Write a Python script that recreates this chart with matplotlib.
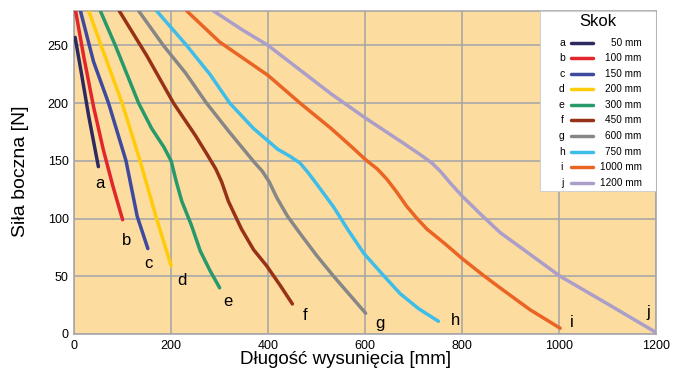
import matplotlib.pyplot as plt
from matplotlib.patches import Rectangle

plt.rcParams["font.family"] = ["Liberation Sans", "DejaVu Sans"]

# side force [N] vs extension length [mm], one curve per stroke
letters = ["a", "b", "c", "d", "e", "f", "g", "h", "i", "j"]
strokes = ["50 mm", "100 mm", "150 mm", "200 mm", "300 mm",
           "450 mm", "600 mm", "750 mm", "1000 mm", "1200 mm"]
colors = ["#2e2a60", "#e3262b", "#3d4a9e", "#ffcc0a", "#27996a",
          "#973218", "#878787", "#3fbde9", "#ea6424", "#ab9ec8"]

a_x = [2, 15, 30, 50]
a_y = [257, 226, 189, 145]
b_x = [3, 20, 40, 60, 80, 100]
b_y = [280, 240, 197, 160, 128, 99]
c_x = [13, 40, 71, 107, 130, 152]
c_y = [280, 236, 200, 150, 102, 74]
d_x = [30, 60, 99, 136, 170, 200]
d_y = [280, 245, 200, 150, 100, 59]
e_x = [54, 85, 133, 160, 185, 200, 210, 222, 242, 260, 280, 300]
e_y = [280, 250, 200, 178, 162, 150, 133, 115, 94, 72, 55, 40]
f_x = [93, 150, 205, 250, 275, 292, 304, 318, 345, 370, 397, 425, 450]
f_y = [280, 241, 200, 172, 155, 143, 132, 115, 91, 73, 59, 42, 26]
g_x = [133, 184, 230, 273, 320, 369, 388, 402, 418, 440, 466, 500, 535, 570, 601]
g_y = [280, 250, 226, 200, 175, 150, 141, 132, 118, 102, 87, 68, 50, 33, 18]
h_x = [170, 232, 280, 321, 370, 420, 445, 466, 482, 500, 535, 565, 597, 635, 672, 710, 751]
h_y = [280, 250, 225, 200, 178, 160, 154, 148, 140, 130, 110, 90, 70, 52, 35, 22, 11]
i_x = [232, 300, 400, 466, 530, 570, 601, 625, 645, 665, 685, 705, 727, 765, 801,
       840, 878, 940, 1002]
i_y = [280, 253, 224, 200, 178, 163, 151, 143, 134, 123, 111, 101, 91, 78, 65,
       52, 40, 21, 5]
j_x = [287, 345, 400, 465, 530, 601, 680, 715, 738, 755, 775, 801, 840, 878, 940,
       1002, 1100, 1201]
j_y = [280, 264, 250, 229, 208, 187, 165, 155, 148, 141, 131, 119, 103, 88, 69,
       50, 26, 1]

curves = [(a_x, a_y), (b_x, b_y), (c_x, c_y), (d_x, d_y), (e_x, e_y),
          (f_x, f_y), (g_x, g_y), (h_x, h_y), (i_x, i_y), (j_x, j_y)]

# where the curve letters sit (data coords)
label_x = [53, 109, 153, 223, 316, 476, 631, 786, 1025, 1183]
label_y = [130, 81, 61, 46, 28, 16, 9, 12, 10, 19]

fig, ax = plt.subplots(figsize=(6.8, 3.74), dpi=100)
fig.subplots_adjust(left=0.109, right=0.965, bottom=0.107, top=0.971)

ax.set_facecolor("#fddca0")
for (xs, ys), col in zip(curves, colors):
    ax.plot(xs, ys, color=col, lw=2.5, solid_capstyle="round",
            solid_joinstyle="round", zorder=3)

for lt, lx, ly in zip(letters, label_x, label_y):
    ax.text(lx, ly, lt, fontsize=12, ha="center", va="center", zorder=4)

ax.set_xlim(0, 1200)
ax.set_ylim(0, 280)
ax.set_xticks([0, 200, 400, 600, 800, 1000, 1200])
ax.set_yticks([0, 50, 100, 150, 200, 250])
ax.tick_params(length=0, labelsize=9, pad=4)
ax.grid(color="#a8a8a8", lw=1.2)
ax.set_axisbelow(True)
for s in ax.spines.values():
    s.set_color("#a8a8a8")
    s.set_linewidth(1.2)

ax.set_xlabel("Długość wysunięcia [mm]", fontsize=13.5)
ax.xaxis.set_label_coords(0.467, -0.052)
ax.set_ylabel("Siła boczna [N]", fontsize=14)
ax.yaxis.set_label_coords(-0.078, 0.505)

# hand-made legend: letter, line sample, stroke
ax.add_patch(Rectangle((0.80, 0.443), 0.2, 0.557, transform=ax.transAxes,
                       facecolor="white", edgecolor="#d0d0d0", lw=0.8, zorder=5))
ax.text(0.90, 0.966, "Skok", transform=ax.transAxes, fontsize=12,
        ha="center", va="center", zorder=6)
for k, (lt, st, col) in enumerate(zip(letters, strokes, colors)):
    yy = 0.902 - k * 0.0482
    ax.text(0.838, yy, lt, transform=ax.transAxes, fontsize=7.5,
            ha="center", va="center", zorder=6)
    ax.plot([0.853, 0.891], [yy, yy], transform=ax.transAxes, color=col,
            lw=2.5, solid_capstyle="round", zorder=6)
    ax.text(0.975, yy, st, transform=ax.transAxes, fontsize=7.2,
            ha="right", va="center", zorder=6)

plt.savefig("out.png", dpi=100)
